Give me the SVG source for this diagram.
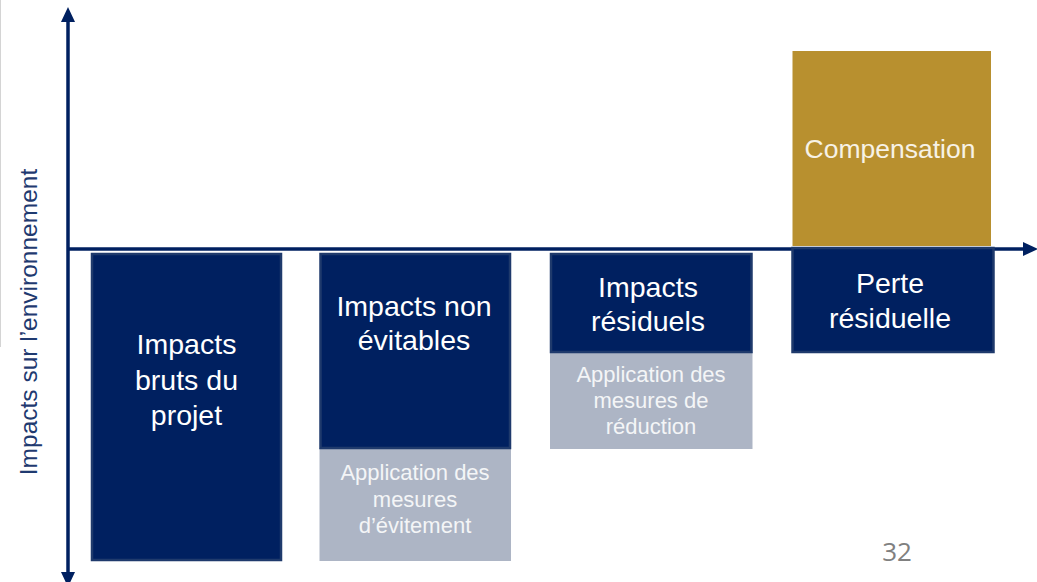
<svg xmlns="http://www.w3.org/2000/svg" width="1037" height="582" viewBox="0 0 1037 582">
  <style>
    .dark { fill: #002060; stroke: #1f3a6c; stroke-width: 2.5; }
    .gray { fill: #adb5c5; }
    .gold { fill: #b8902f; }
    .t { font-family: "Liberation Sans", Arial, sans-serif; text-anchor: middle; }
    .big { font-size: 28.5px; fill: #ffffff; }
    .small { font-size: 22px; fill: #f4f5f7; }
    .comp { font-size: 26.5px; fill: #f7f2e6; }
    .axis { stroke: #002060; stroke-width: 3.5; fill: none; }
  </style>
  <defs>
    <marker id="arrow" viewBox="0 0 15 14" refX="0" refY="7" markerWidth="15" markerHeight="14" markerUnits="userSpaceOnUse" orient="auto-start-reverse">
      <path d="M0,0 L15,7 L0,14 z" fill="#002060"/>
    </marker>
  </defs>
  <rect width="1037" height="582" fill="#ffffff"/>
  <line x1="0.5" y1="0" x2="0.5" y2="347" stroke="#d4d4d4" stroke-width="1"/>

  <g id="ylabel">
    <text class="t" transform="translate(37,322) rotate(-90)" font-size="24.5" fill="#1f3a70">Impacts sur l’environnement</text>
  </g>

  <g id="node-bruts">
    <rect class="dark" x="92" y="254" width="189" height="306"/>
    <text class="t big" x="186.5" y="354">Impacts</text>
    <text class="t big" x="186.5" y="389.5">bruts du</text>
    <text class="t big" x="186.5" y="425">projet</text>
  </g>

  <g id="node-evitement">
    <rect class="gray" x="319.5" y="448" width="191.5" height="113"/>
    <rect class="dark" x="320.5" y="254" width="189.5" height="194"/>
    <text class="t big" x="414" y="316">Impacts non</text>
    <text class="t big" x="414" y="350">évitables</text>
    <text class="t small" x="415" y="480">Application des</text>
    <text class="t small" x="415" y="506.5">mesures</text>
    <text class="t small" x="415" y="532.5">d’évitement</text>
  </g>

  <g id="node-reduction">
    <rect class="gray" x="550" y="352" width="202.5" height="97"/>
    <rect class="dark" x="551" y="254" width="200.5" height="98"/>
    <text class="t big" x="648" y="296.5">Impacts</text>
    <text class="t big" x="648" y="331">résiduels</text>
    <text class="t small" x="651" y="381.5">Application des</text>
    <text class="t small" x="651" y="408">mesures de</text>
    <text class="t small" x="651" y="434">réduction</text>
  </g>

  <g id="node-compensation">
    <rect class="gold" x="792.5" y="51" width="198.5" height="195"/>
    <text class="t comp" x="890" y="158">Compensation</text>
  </g>

  <g id="connectors">
    <line class="axis" x1="68" y1="22" x2="68" y2="572" marker-start="url(#arrow)" marker-end="url(#arrow)"/>
    <line class="axis" x1="68" y1="249" x2="1023" y2="249" marker-end="url(#arrow)"/>
  </g>

  <g id="node-perte">
    <rect class="dark" x="792.5" y="248" width="201" height="104"/>
    <text class="t big" x="890" y="293">Perte</text>
    <text class="t big" x="890" y="328">résiduelle</text>
  </g>

  <text x="897" y="561" font-family="'Open Sans', 'Liberation Sans', sans-serif" font-size="26" fill="#808080" text-anchor="middle">32</text>
</svg>
